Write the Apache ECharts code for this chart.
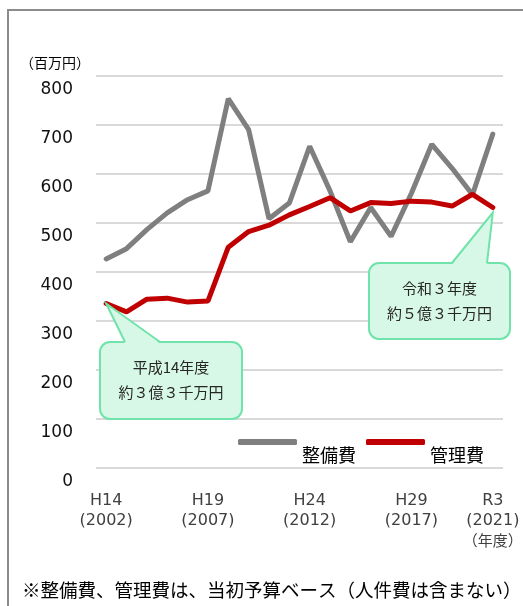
<!DOCTYPE html>
<html>
<head>
<meta charset="utf-8">
<script src="https://cdn.jsdelivr.net/npm/echarts@6/dist/echarts.min.js"></script>
<style>
  html, body { margin: 0; padding: 0; background: #ffffff; }
  #chart { width: 523px; height: 606px; }
</style>
</head>
<body>
<div id="chart"></div>
<script>
// 年度（和暦・西暦）
const eraYears = ['H14', 'H15', 'H16', 'H17', 'H18', 'H19', 'H20', 'H21', 'H22', 'H23',
  'H24', 'H25', 'H26', 'H27', 'H28', 'H29', 'H30', 'R1', 'R2', 'R3']
const westernYears = [2002, 2003, 2004, 2005, 2006, 2007, 2008, 2009, 2010, 2011,
  2012, 2013, 2014, 2015, 2016, 2017, 2018, 2019, 2020, 2021]

// 百万円
const seibiCost = [426, 447, 486, 520, 547, 565, 753, 690, 508, 540,
  656, 565, 461, 531, 472, 560, 660, 611, 557, 681]
const kanriCost = [335, 318, 344, 346, 338, 340, 450, 482, 495, 516,
  533, 551, 524, 541, 539, 544, 542, 534, 558, 531]

const shownLabels = [0, 5, 10, 15, 19]
const seriesNames = ['整備費', '管理費']
const calloutLines = [
  ['平成14年度', '約３億３千万円'],
  ['令和３年度', '約５億３千万円']
]

const FONT = '"DejaVu Sans", "Noto Sans CJK JP", sans-serif'
const JP_FONT = '"Noto Sans CJK JP", "DejaVu Sans", sans-serif'

const chart = echarts.init(document.getElementById('chart'))

chart.setOption({
  animation: false,
  grid: {
    left: 96,
    right: 20,
    top: 75.7,
    bottom: 138.3,
    containLabel: false,
    outerBoundsMode: 'none'
  },
  legend: {
    data: seriesNames,
    left: 238,
    top: 439,
    padding: 0,
    itemGap: 10,
    itemWidth: 59,
    itemHeight: 6,
    icon: 'roundRect',
    formatter: '{t|{name}}',
    textStyle: {
      fontSize: 18,
      color: '#000',
      fontFamily: JP_FONT,
      rich: {
        t: { fontSize: 18, color: '#000', fontFamily: JP_FONT, padding: [26, 0, 0, 0] }
      }
    }
  },
  xAxis: {
    type: 'category',
    data: eraYears,
    boundaryGap: true,
    axisLine: { show: false },
    axisTick: { show: false },
    splitLine: { show: false },
    axisLabel: {
      interval: (i) => shownLabels.includes(i),
      margin: 23,
      fontSize: 16,
      lineHeight: 20,
      color: '#404040',
      fontFamily: FONT,
      formatter: (v, i) => {
        const base = v + '\n(' + westernYears[i] + ')'
        return i === eraYears.length - 1 ? base + '\n{u|（年度）}' : base
      },
      rich: {
        u: { fontSize: 15, fontFamily: JP_FONT, color: '#404040', lineHeight: 20 }
      }
    }
  },
  yAxis: {
    type: 'value',
    min: 0,
    max: 800,
    interval: 100,
    name: '（百万円）',
    nameLocation: 'end',
    nameGap: 6,
    nameTextStyle: {
      align: 'right',
      verticalAlign: 'bottom',
      fontSize: 14,
      color: '#000',
      fontFamily: JP_FONT,
      padding: [0, 6, 0, 0]
    },
    axisLine: { show: false },
    axisTick: { show: false },
    splitLine: { lineStyle: { color: '#d9d9d9', width: 2 } },
    axisLabel: {
      margin: 23,
      fontSize: 17,
      color: '#111',
      fontFamily: FONT,
      verticalAlign: 'top',
      padding: [5, 0, 0, 0]
    }
  },
  series: [
    {
      name: seriesNames[0],
      type: 'line',
      data: seibiCost,
      symbol: 'none',
      lineStyle: { color: '#7f7f7f', width: 5, cap: 'round' },
      itemStyle: { color: '#7f7f7f' }
    },
    {
      name: seriesNames[1],
      type: 'line',
      data: kanriCost,
      symbol: 'none',
      lineStyle: { color: '#c00000', width: 5, cap: 'round' },
      itemStyle: { color: '#c00000' }
    }
  ]
})

// 吹き出し（先端は管理費の点に合わせる）
function callout(box, baseX, tip, lines) {
  const fill = '#d8f8e7'
  const stroke = '#6fe3a9'
  const cx = box.x + box.w / 2
  return [
    {
      type: 'rect', z: 100,
      shape: { x: box.x, y: box.y, width: box.w, height: box.h, r: 10 },
      style: { fill, stroke, lineWidth: 2 }
    },
    {
      type: 'polygon', z: 101,
      shape: { points: [[baseX[0], box.y + 1.5], tip, [baseX[1], box.y + 1.5]] },
      style: { fill, stroke: null }
    },
    {
      type: 'polyline', z: 102,
      shape: { points: [[baseX[0], box.y], tip, [baseX[1], box.y]] },
      style: { stroke, lineWidth: 2, fill: null }
    },
    ...lines.map((t, k) => ({
      type: 'text', z: 103,
      x: cx, y: box.y + 25 + k * 25,
      style: {
        text: t, fill: '#262626', fontSize: 15, fontFamily: JP_FONT,
        align: 'center', verticalAlign: 'middle',
        textAlign: 'center', textVerticalAlign: 'middle'
      }
    }))
  ]
}

const last = kanriCost.length - 1
const tipFirst = chart.convertToPixel({ seriesIndex: 1 }, [0, kanriCost[0]])
const tipLast = chart.convertToPixel({ seriesIndex: 1 }, [last, kanriCost[last]])

chart.setOption({
  graphic: [
    {
      type: 'polyline', z: 50,
      shape: { points: [[8, 606], [8, 10], [523, 10]] },
      style: { stroke: '#8c8c8c', lineWidth: 2, fill: null }
    },
    ...callout({ x: 100, y: 342, w: 142, h: 77 }, [125, 160], [tipFirst[0], tipFirst[1]], calloutLines[0]),
    ...callout({ x: 369, y: 263, w: 141, h: 76 }, [452, 487], [tipLast[0], tipLast[1] + 5], calloutLines[1]),
    {
      type: 'text', z: 50,
      x: 22, y: 590,
      style: {
        text: '※整備費、管理費は、当初予算ベース（人件費は含まない）',
        fill: '#000', fontSize: 18.5, fontFamily: JP_FONT,
        align: 'left', verticalAlign: 'middle',
        textAlign: 'left', textVerticalAlign: 'middle'
      }
    }
  ]
})
</script>
</body>
</html>
